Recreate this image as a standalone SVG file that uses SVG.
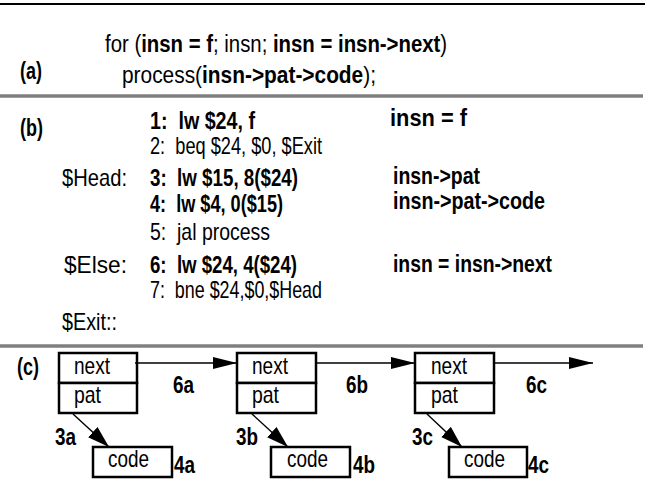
<svg xmlns="http://www.w3.org/2000/svg" width="653" height="493" viewBox="0 0 653 493">
<style>
text{font-family:"Liberation Sans",Arial,sans-serif;font-size:24px;fill:#000}
.b{font-weight:bold}
.sep{stroke:#7f7f7f;stroke-width:3.5}
.box{fill:#fff;stroke:#000;stroke-width:2.5}
.ln{stroke:#000;stroke-width:1.4;fill:none}
</style>
<defs>
<marker id="ah" markerUnits="userSpaceOnUse" markerWidth="26" markerHeight="14" refX="24" refY="6" orient="auto"><path d="M0,0 L24,6 L0,12 Z" fill="#000"/></marker>
<marker id="ad" markerUnits="userSpaceOnUse" markerWidth="24" markerHeight="16" refX="22" refY="7" orient="auto"><path d="M0,0 L22,7 L0,14 Z" fill="#000"/></marker>
</defs>
<line x1="0" y1="4" x2="645" y2="4" stroke="#000" stroke-width="2"/>
<line class="sep" x1="0" y1="96" x2="643" y2="96"/>
<line class="sep" x1="0" y1="346" x2="643" y2="346"/>
<g id="part-a">
<text class="b" x="20" y="79" textLength="22" lengthAdjust="spacingAndGlyphs">(a)</text>
<text transform="translate(105,52) scale(0.848,1)" x="0" y="0">for (<tspan class="b">insn = f</tspan>; insn; <tspan class="b">insn = insn-&gt;next</tspan>)</text>
<text transform="translate(122,83) scale(0.870,1)" x="0" y="0">process(<tspan class="b">insn-&gt;pat-&gt;code</tspan>);</text>
</g>
<g id="part-b">
<text class="b" x="20" y="136" textLength="23" lengthAdjust="spacingAndGlyphs">(b)</text>
<text class="b" x="150" y="129" textLength="105" lengthAdjust="spacingAndGlyphs">1:&#160; lw $24, f</text>
<text x="150" y="154" textLength="172" lengthAdjust="spacingAndGlyphs">2:&#160; beq $24, $0, $Exit</text>
<text x="62" y="186" textLength="65" lengthAdjust="spacingAndGlyphs">$Head:</text>
<text class="b" x="150" y="186" textLength="148" lengthAdjust="spacingAndGlyphs">3:&#160; lw $15, 8($24)</text>
<text class="b" x="150" y="212" textLength="133" lengthAdjust="spacingAndGlyphs">4:&#160; lw $4, 0($15)</text>
<text x="150" y="240" textLength="120" lengthAdjust="spacingAndGlyphs">5:&#160; jal process</text>
<text x="64" y="273" textLength="63" lengthAdjust="spacingAndGlyphs">$Else:</text>
<text class="b" x="150" y="273" textLength="147" lengthAdjust="spacingAndGlyphs">6:&#160; lw $24, 4($24)</text>
<text x="150" y="298" textLength="172" lengthAdjust="spacingAndGlyphs">7:&#160; bne $24,$0,$Head</text>
<text x="62" y="330" textLength="55" lengthAdjust="spacingAndGlyphs">$Exit::</text>
<text class="b" x="390" y="126" textLength="77" lengthAdjust="spacingAndGlyphs">insn = f</text>
<text class="b" x="393" y="184" textLength="87" lengthAdjust="spacingAndGlyphs">insn-&gt;pat</text>
<text class="b" x="393" y="209" textLength="152" lengthAdjust="spacingAndGlyphs">insn-&gt;pat-&gt;code</text>
<text class="b" x="393" y="272" textLength="159" lengthAdjust="spacingAndGlyphs">insn = insn-&gt;next</text>
</g>
<g id="part-c">
<text class="b" x="17" y="375" textLength="22" lengthAdjust="spacingAndGlyphs">(c)</text>
</g>
<g id="node1">
<rect class="box" x="59" y="353" width="78" height="30"/>
<rect class="box" x="59" y="383" width="78" height="30"/>
<text x="74" y="374" textLength="36" lengthAdjust="spacingAndGlyphs">next</text>
<text x="74" y="403" textLength="27" lengthAdjust="spacingAndGlyphs">pat</text>
</g>
<g id="node2">
<rect class="box" x="237" y="353" width="79" height="30"/>
<rect class="box" x="237" y="383" width="79" height="30"/>
<text x="252" y="374" textLength="36" lengthAdjust="spacingAndGlyphs">next</text>
<text x="252" y="403" textLength="27" lengthAdjust="spacingAndGlyphs">pat</text>
</g>
<g id="node3">
<rect class="box" x="415" y="353" width="79" height="30"/>
<rect class="box" x="415" y="383" width="79" height="30"/>
<text x="431" y="374" textLength="36" lengthAdjust="spacingAndGlyphs">next</text>
<text x="431" y="403" textLength="27" lengthAdjust="spacingAndGlyphs">pat</text>
</g>
<g id="code1">
<rect class="box" x="93" y="447" width="79" height="30"/>
<text x="108" y="467" textLength="41" lengthAdjust="spacingAndGlyphs">code</text>
</g>
<g id="code2">
<rect class="box" x="271" y="447" width="79" height="30"/>
<text x="287" y="467" textLength="41" lengthAdjust="spacingAndGlyphs">code</text>
</g>
<g id="code3">
<rect class="box" x="449" y="447" width="78" height="30"/>
<text x="464" y="467" textLength="41" lengthAdjust="spacingAndGlyphs">code</text>
</g>
<g id="connectors">
<line class="ln" x1="135" y1="363" x2="237" y2="363" marker-end="url(#ah)"/>
<line class="ln" x1="316" y1="363" x2="415" y2="363" marker-end="url(#ah)"/>
<line class="ln" x1="494" y1="363" x2="593" y2="363" marker-end="url(#ah)"/>
<line class="ln" x1="73" y1="414" x2="109" y2="447" marker-end="url(#ad)"/>
<line class="ln" x1="252" y1="414" x2="288" y2="447" marker-end="url(#ad)"/>
<line class="ln" x1="427" y1="414" x2="462" y2="447" marker-end="url(#ad)"/>
</g>
<g id="labels">
<text class="b" x="173" y="393" textLength="21" lengthAdjust="spacingAndGlyphs">6a</text>
<text class="b" x="346" y="393" textLength="22" lengthAdjust="spacingAndGlyphs">6b</text>
<text class="b" x="526" y="393" textLength="21" lengthAdjust="spacingAndGlyphs">6c</text>
<text class="b" x="55" y="445" textLength="21" lengthAdjust="spacingAndGlyphs">3a</text>
<text class="b" x="236" y="445" textLength="22" lengthAdjust="spacingAndGlyphs">3b</text>
<text class="b" x="412" y="445" textLength="21" lengthAdjust="spacingAndGlyphs">3c</text>
<text class="b" x="174" y="473" textLength="21" lengthAdjust="spacingAndGlyphs">4a</text>
<text class="b" x="353" y="473" textLength="22" lengthAdjust="spacingAndGlyphs">4b</text>
<text class="b" x="528" y="473" textLength="21" lengthAdjust="spacingAndGlyphs">4c</text>
</g>
</svg>
